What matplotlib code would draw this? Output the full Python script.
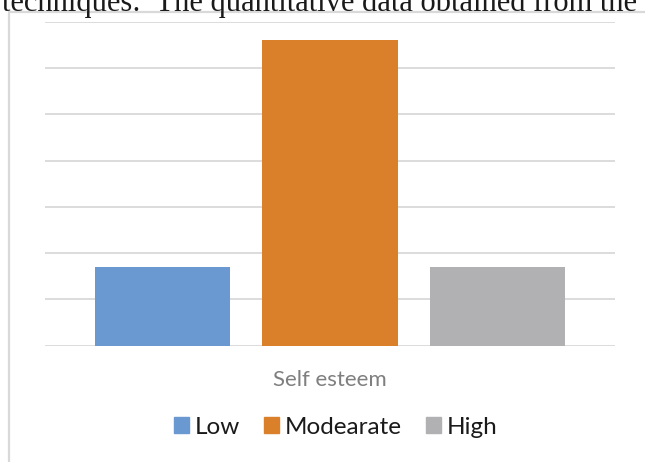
import matplotlib
matplotlib.use("Agg")
import matplotlib.pyplot as plt
import matplotlib.patches as mpatches

# share of respondents (%) at each self-esteem level
category = "Self esteem"
levels = ["Low", "Modearate", "High"]
percent = [17, 66, 17]
colors = ["#6A98D0", "#DA7F2A", "#B1B1B3"]

W, H = 645, 462
fig = plt.figure(figsize=(W / 100, H / 100), dpi=100)

# line of body text just above the chart box
fig.text(2 / W, 1 - 10.5 / H, "techniques:  The quantitative data obtained from the",
         family="Liberation Serif", fontsize=22, color="#1a1a1a", va="baseline", ha="left")

# chart box border
fig.patches.append(mpatches.Rectangle((8.5 / W, -0.1), 1.0, 1 - 12 / H + 0.1,
                                      transform=fig.transFigure, fill=False,
                                      edgecolor="#d9d9d9", linewidth=1.6))

ax = fig.add_axes([45 / W, 116.3 / H, 570 / W, 324 / H])
offsets = [-1, 0, 1]
for off, val, col, lab in zip(offsets, percent, colors, levels):
    ax.bar(off, val, width=0.806, color=col, label=lab, zorder=3)

ax.set_ylim(0, 70)
ax.set_xlim(-1.7015, 1.7015)
ax.set_yticks(range(0, 71, 10))
ax.yaxis.grid(True, color="#d9d9d9", linewidth=1.3, zorder=0)
ax.tick_params(left=False, bottom=False, labelleft=False)
ax.set_xticks([0])
ax.set_xticklabels([category], family="Lato", fontsize=16, color="#7f7f7f")
ax.tick_params(axis="x", pad=14)
for s in ax.spines.values():
    s.set_visible(False)

handles = [mpatches.Patch(color=c, label=l) for c, l in zip(colors, levels)]
fig.legend(handles=handles, loc="center", bbox_to_anchor=(336 / W, 1 - 427 / H),
           ncol=3, frameon=False, prop={"family": "Lato", "size": 17.5},
           handlelength=0.6, handleheight=0.6, handletextpad=0.25, columnspacing=1.0,
           labelcolor="#1a1a1a")

fig.savefig("out.png", dpi=100)
